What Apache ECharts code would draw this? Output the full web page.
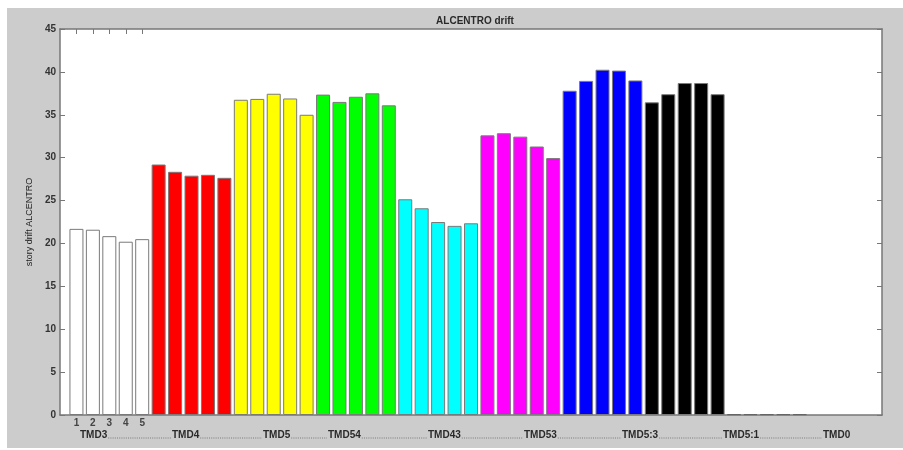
<!DOCTYPE html>
<html>
<head>
<meta charset="utf-8">
<script src="https://cdn.jsdelivr.net/npm/echarts@6/dist/echarts.min.js"></script>
<style>
  html, body { margin: 0; padding: 0; background: #fff; }
  #chart { width: 903px; height: 450px; }
</style>
</head>
<body>
<div id="chart"></div>
<script>
// Story drift per TMD configuration, five storeys each
const tmd3  = [21.7, 21.6, 20.85, 20.2, 20.5];
const tmd4  = [29.2, 28.35, 27.9, 28.0, 27.65];
const tmd5  = [36.75, 36.85, 37.45, 36.9, 35.0];
const tmd54 = [37.35, 36.5, 37.1, 37.5, 36.1];
const tmd43 = [25.15, 24.1, 22.5, 22.05, 22.35];
const tmd53 = [32.6, 32.85, 32.45, 31.3, 29.95];
const tmd5_3 = [37.8, 38.95, 40.25, 40.15, 39.0];
const tmd5_1 = [36.45, 37.4, 38.7, 38.7, 37.4];
const tmd0  = [0.1, 0.1, 0.1, 0.1, 0.1];

const groupValues = [tmd3, tmd4, tmd5, tmd54, tmd43, tmd53, tmd5_3, tmd5_1, tmd0];
const groupColors = ['#ffffff', '#ff0000', '#ffff00', '#00ff00', '#00ffff', '#ff00ff', '#0000ff', '#000000', '#ffffff'];
const groupLabels = ['TMD3', 'TMD4', 'TMD5', 'TMD54', 'TMD43', 'TMD53', 'TMD5:3', 'TMD5:1', 'TMD0'];
const xTickLabels = ['1', '2', '3', '4', '5'];
const xTickValues = [1, 2, 3, 4, 5];

// Layout of the caption row under the axis (left pixel of each word)
const captionX = [80, 172, 263, 328, 428, 524, 622, 723, 823];
const captionY = 435;

const chart = echarts.init(document.getElementById('chart'), null, { renderer: 'canvas' });

const series = groupValues.map((vals, g) => ({
  type: 'bar',
  name: groupLabels[g],
  xAxisIndex: 0,
  yAxisIndex: 0,
  barWidth: 14,
  barGap: '-100%',
  itemStyle: { color: groupColors[g], borderColor: g === 8 ? '#666' : '#7a7a7a', borderWidth: 1 },
  data: vals.map((v, i) => [g * vals.length + i + 1, v]),
  animation: false
}));

const textFont = 'Liberation Sans, Arial, sans-serif';
const captionFont = 'bold 10px ' + textFont;

const graphics = [
  { type: 'rect', z: -10, silent: true, shape: { x: 7, y: 8, width: 896, height: 440 }, style: { fill: '#cccccc' } },
  { type: 'rect', z: -9, silent: true, shape: { x: 60, y: 29, width: 822, height: 386 }, style: { fill: '#ffffff' } }
];

// Caption words under the axis
groupLabels.forEach((t, i) => {
  graphics.push({
    type: 'text', z: 10, silent: true,
    x: captionX[i], y: captionY,
    style: { text: t, font: captionFont, fill: '#2a2a2a', verticalAlign: 'middle' }
  });
});

// Dotted connectors from the end of one caption word to the start of the next
const measureCtx = document.createElement('canvas').getContext('2d');
measureCtx.font = captionFont;
for (let i = 0; i < groupLabels.length - 1; i++) {
  const endX = captionX[i] + measureCtx.measureText(groupLabels[i]).width;
  graphics.push({
    type: 'line', z: 10, silent: true,
    shape: { x1: endX + 1, y1: captionY + 3, x2: captionX[i + 1] - 1, y2: captionY + 3 },
    style: { stroke: '#666', lineWidth: 0.8, lineDash: [1, 1.2] }
  });
}

chart.setOption({
  backgroundColor: '#ffffff',
  animation: false,
  title: {
    text: 'ALCENTRO drift',
    left: 470, top: 11,
    textAlign: 'center',
    textStyle: { fontFamily: textFont, fontSize: 10, fontWeight: 'bold', color: '#2a2a2a' }
  },
  grid: { left: 60, top: 29, right: 21, bottom: 35, show: false },
  xAxis: [
    {
      type: 'value', min: 0, max: 50, position: 'bottom',
      axisLine: { show: true, lineStyle: { color: '#777', width: 1.5 } },
      axisTick: { show: true, inside: true, length: 5, customValues: xTickValues, lineStyle: { color: '#777' } },
      axisLabel: {
        customValues: xTickValues, margin: 3,
        formatter: v => xTickLabels[xTickValues.indexOf(v)] || '',
        fontFamily: textFont, fontSize: 10, fontWeight: 'bold', color: '#444'
      },
      splitLine: { show: false }
    },
    {
      type: 'value', min: 0, max: 50, position: 'top',
      axisLine: { show: true, onZero: false, lineStyle: { color: '#777', width: 1.5 } },
      axisTick: { show: true, inside: true, length: 5, customValues: xTickValues, lineStyle: { color: '#777' } },
      axisLabel: { show: false },
      splitLine: { show: false }
    }
  ],
  yAxis: [
    {
      type: 'value', min: 0, max: 45, interval: 5, position: 'left',
      name: 'story drift ALCENTRO', nameLocation: 'middle', nameGap: 26,
      nameTextStyle: { fontFamily: textFont, fontSize: 9, color: '#222' },
      axisLine: { show: true, lineStyle: { color: '#777', width: 1.5 } },
      axisTick: { show: true, inside: true, length: 5, lineStyle: { color: '#777' } },
      axisLabel: { margin: 4, fontFamily: textFont, fontSize: 10, fontWeight: 'bold', color: '#333' },
      splitLine: { show: false }
    },
    {
      type: 'value', min: 0, max: 45, interval: 5, position: 'right',
      axisLine: { show: true, onZero: false, lineStyle: { color: '#777', width: 1.5 } },
      axisTick: { show: true, inside: true, length: 5, lineStyle: { color: '#777' } },
      axisLabel: { show: false },
      splitLine: { show: false }
    }
  ],
  graphic: graphics,
  series: series
});
</script>
</body>
</html>
